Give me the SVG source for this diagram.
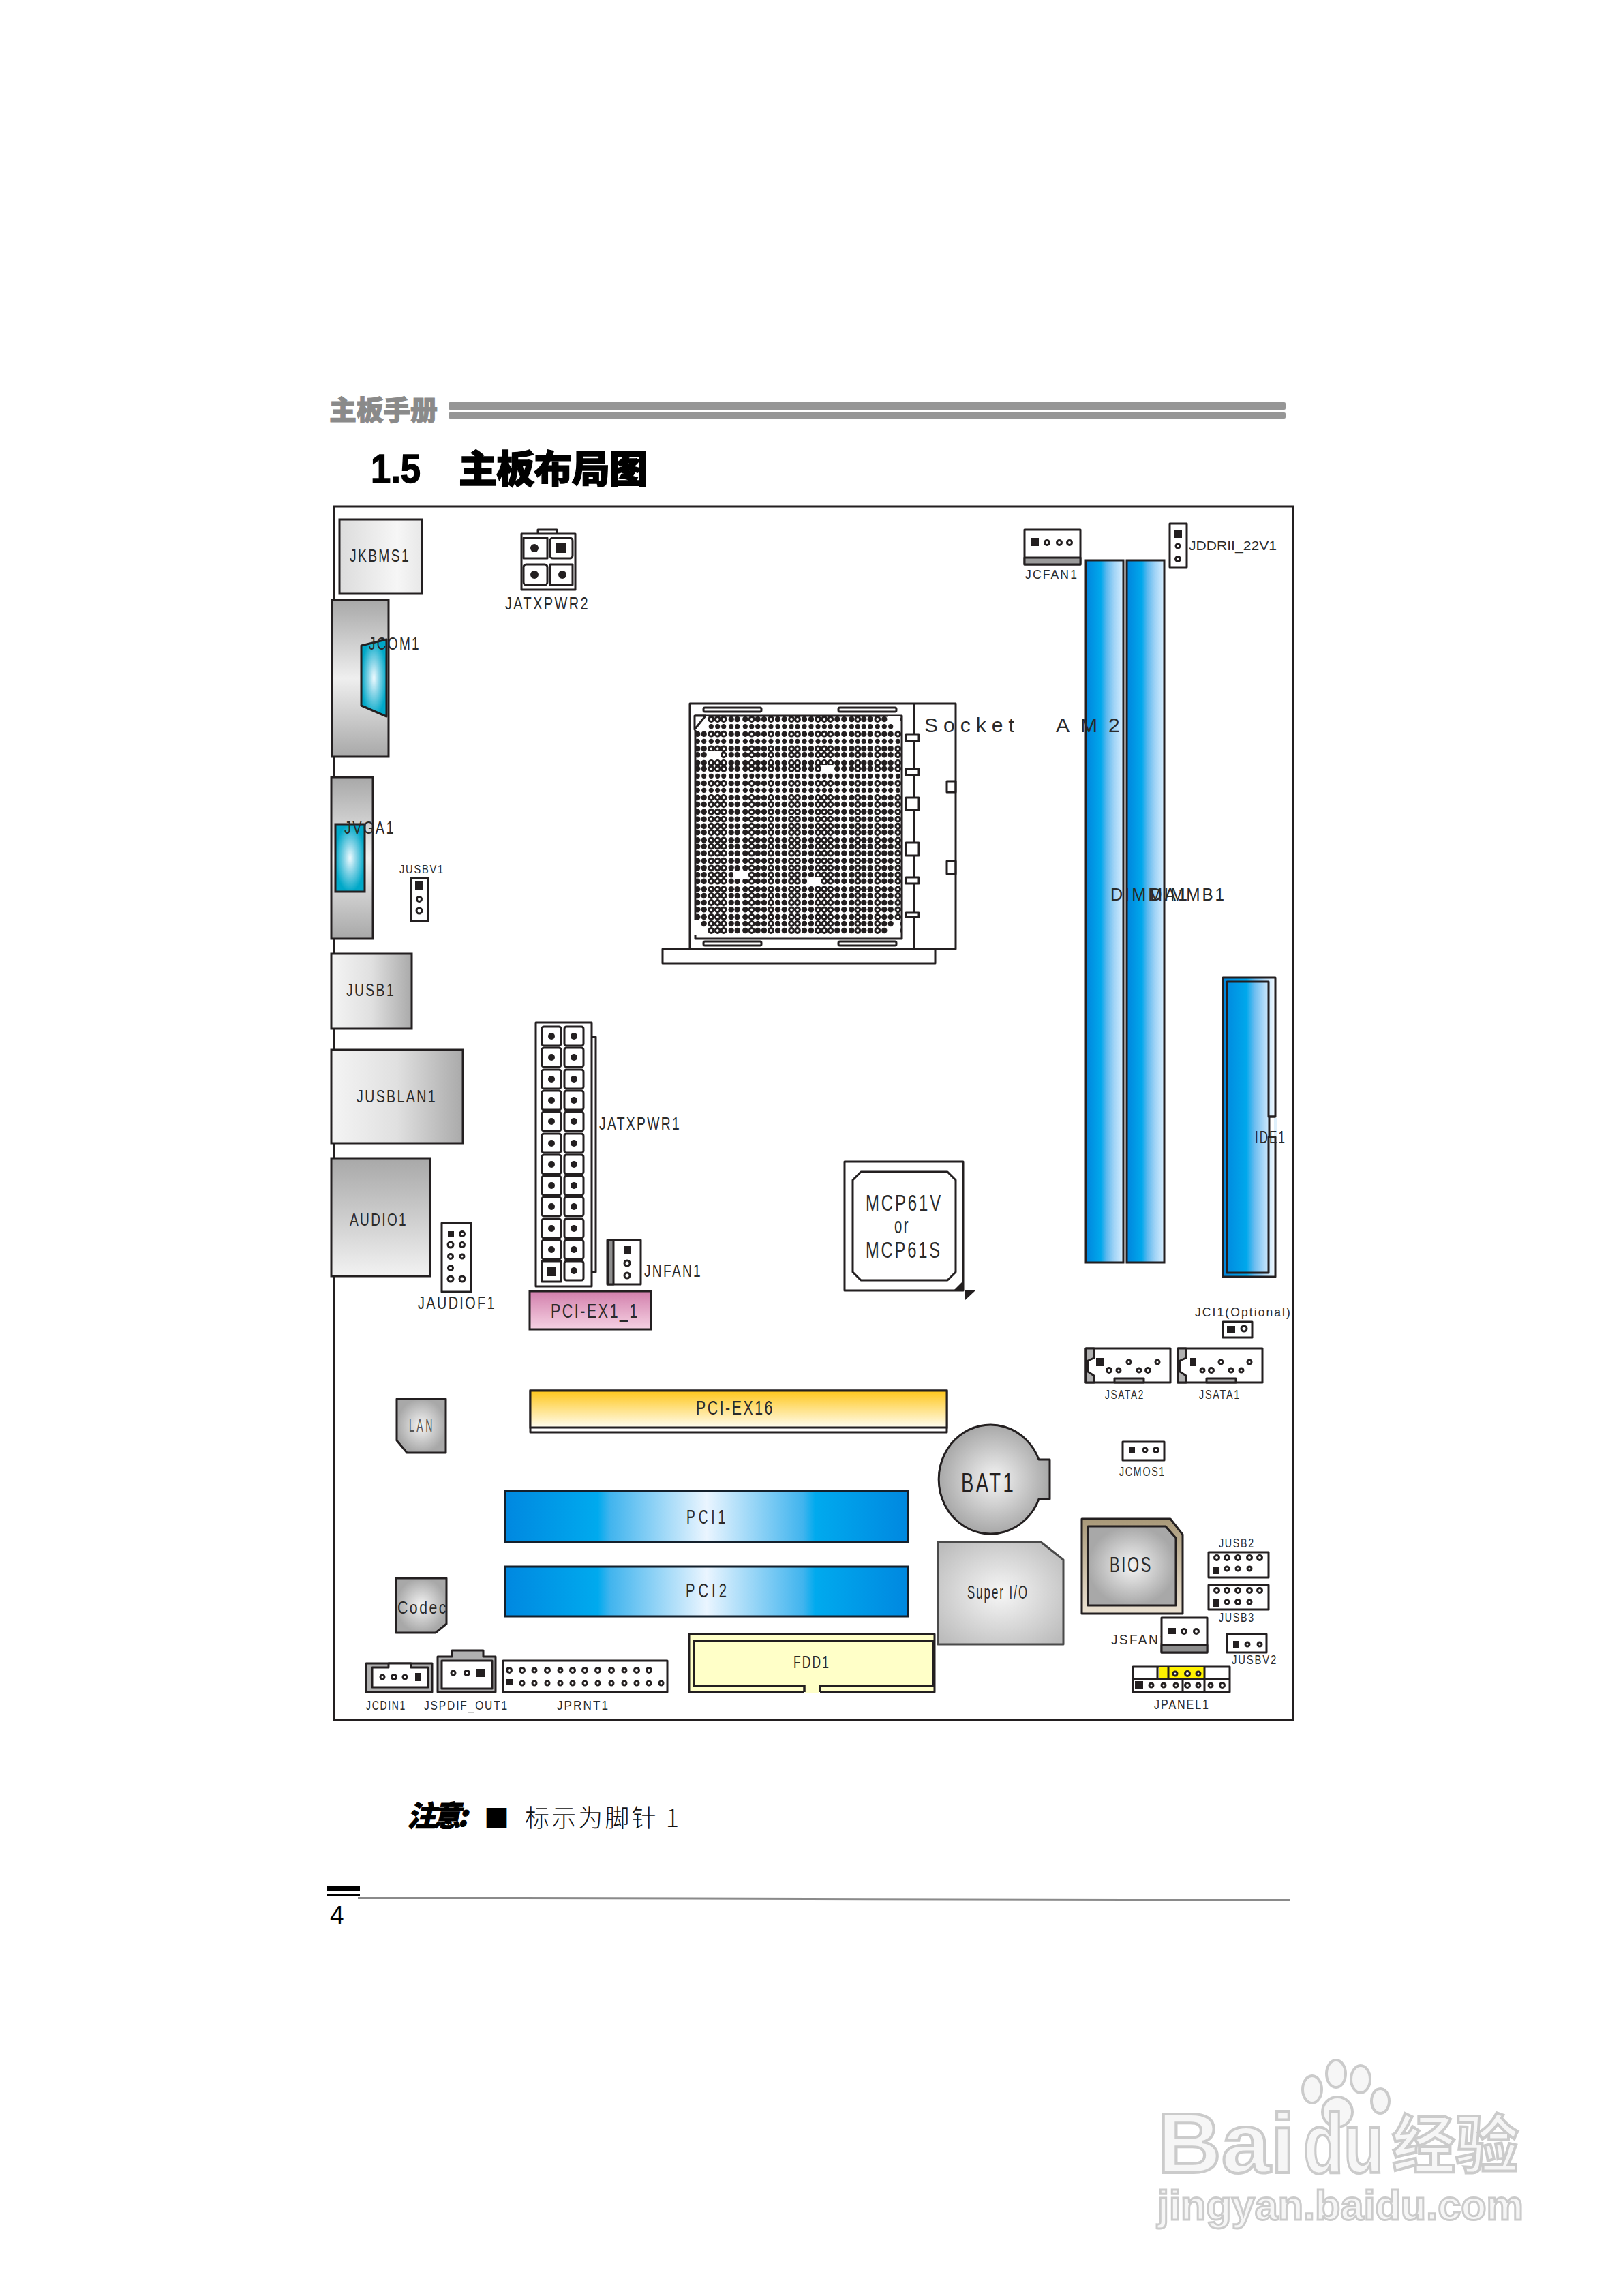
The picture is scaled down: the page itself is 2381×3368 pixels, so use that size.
<svg xmlns="http://www.w3.org/2000/svg" xmlns:xlink="http://www.w3.org/1999/xlink" width="2381" height="3368" viewBox="0 0 2381 3368">
<style>
text{font-family:"Liberation Sans",Arial,sans-serif;fill:#2a2a2a;letter-spacing:.12em}
.cjk{font-family:"Noto Sans CJK SC",sans-serif;letter-spacing:0}
.ls0{letter-spacing:0}
.b{fill:#fff;stroke:#231f20;stroke-width:3;stroke-linejoin:round}
.n{fill:none;stroke:#231f20;stroke-width:3;stroke-linejoin:round}
.s{fill:#231f20}
.p{fill:#fff;stroke:#231f20;stroke-width:3}
.g{fill:#b0b0b0;stroke:#231f20;stroke-width:3;stroke-linejoin:round}
.f25{font-size:25px}.f19{font-size:19px}.f17{font-size:17px}.f30{font-size:30px}
.wm{stroke:#cbcbcb;stroke-width:4;letter-spacing:0}
.pa{fill:#231f20}
.pr{fill:#fff;stroke:#231f20;stroke-width:3}
</style>
<defs>
<linearGradient id="gKb" x1="0" x2="1" y1="0" y2="0"><stop offset="0" stop-color="#dcdcdc"/><stop offset=".7" stop-color="#f6f6f6"/><stop offset="1" stop-color="#e8e8e8"/></linearGradient>
<linearGradient id="gPort" x1="0" x2="0" y1="0" y2="1"><stop offset="0" stop-color="#a8a8a8"/><stop offset=".5" stop-color="#efefef"/><stop offset="1" stop-color="#a8a8a8"/></linearGradient>
<linearGradient id="gUsb" x1="0" x2="1" y1="0" y2="0"><stop offset="0" stop-color="#f4f4f4"/><stop offset=".5" stop-color="#e0e0e0"/><stop offset="1" stop-color="#aaaaaa"/></linearGradient>
<linearGradient id="gAud" x1="0" x2="0" y1="0" y2="1"><stop offset="0" stop-color="#a8a8a8"/><stop offset="1" stop-color="#f2f2f2"/></linearGradient>
<radialGradient id="gCyan"><stop offset="0" stop-color="#f0fbff"/><stop offset=".4" stop-color="#8dd6e8"/><stop offset="1" stop-color="#00a8c8"/></radialGradient>
<linearGradient id="gPink" x1="0" x2="0" y1="0" y2="1"><stop offset="0" stop-color="#d27fac"/><stop offset="1" stop-color="#f6d2e3"/></linearGradient>
<linearGradient id="gDimm" x1="0" x2="1" y1="0" y2="0"><stop offset="0" stop-color="#0085dd"/><stop offset=".4" stop-color="#00a8ec"/><stop offset=".55" stop-color="#5db8ee"/><stop offset=".75" stop-color="#9fd3f6"/><stop offset="1" stop-color="#d8eeff"/></linearGradient>
<linearGradient id="gIde" x1="0" x2="1" y1="0" y2="0"><stop offset="0" stop-color="#0085dd"/><stop offset=".45" stop-color="#00a8ec"/><stop offset=".6" stop-color="#6abcf0"/><stop offset=".8" stop-color="#b4dcf8"/><stop offset="1" stop-color="#f4faff"/></linearGradient>
<linearGradient id="gPci" x1="0" x2="1" y1="0" y2="0"><stop offset="0" stop-color="#0088e0"/><stop offset=".23" stop-color="#00aaee"/><stop offset=".26" stop-color="#40b4ee"/><stop offset=".5" stop-color="#eaf5ff"/><stop offset=".74" stop-color="#40b4ee"/><stop offset=".77" stop-color="#00aaee"/><stop offset="1" stop-color="#0088e0"/></linearGradient>
<linearGradient id="gEx" x1="0" x2="0" y1="0" y2="1"><stop offset="0" stop-color="#ffc61a"/><stop offset="1" stop-color="#fffdf0"/></linearGradient>
<radialGradient id="gChip"><stop offset="0" stop-color="#f4f4f4"/><stop offset="1" stop-color="#a8a8a8"/></radialGradient>
<radialGradient id="gSio" r=".65"><stop offset="0" stop-color="#f6f6f6"/><stop offset="1" stop-color="#bcbcbc"/></radialGradient>
<linearGradient id="gTan" x1="0" x2="0" y1="0" y2="1"><stop offset="0" stop-color="#a89878"/><stop offset="1" stop-color="#ece2d2"/></linearGradient>
<g id="rA">
<circle class="pa" cx="1023.3" r="4.2"/><circle class="pa" cx="1032.7" r="4.2"/><circle class="pr" cx="1043.3" r="3.4"/><circle class="pr" cx="1052.7" r="3.4"/><circle class="pr" cx="1061.7" r="3.4"/><circle class="pa" cx="1072.7" r="4.2"/><circle class="pa" cx="1081.7" r="4.2"/><circle class="pa" cx="1093.3" r="4.2"/><circle class="pr" cx="1102.7" r="3.4"/><circle class="pa" cx="1111.7" r="4.2"/><circle class="pa" cx="1121" r="4.2"/><circle class="pr" cx="1131" r="3.4"/><circle class="pa" cx="1141" r="4.2"/><circle class="pa" cx="1150.7" r="4.2"/><circle class="pr" cx="1161" r="3.4"/><circle class="pr" cx="1170" r="3.4"/><circle class="pa" cx="1180" r="4.2"/><circle class="pa" cx="1190" r="4.2"/><circle class="pr" cx="1200" r="3.4"/><circle class="pr" cx="1209.3" r="3.4"/><circle class="pr" cx="1218.3" r="3.4"/><circle class="pa" cx="1228.3" r="4.2"/><circle class="pa" cx="1238.3" r="4.2"/><circle class="pa" cx="1249.3" r="4.2"/><circle class="pr" cx="1258.3" r="3.4"/><circle class="pa" cx="1267.3" r="4.2"/><circle class="pa" cx="1276.7" r="4.2"/><circle class="pr" cx="1287.3" r="3.4"/><circle class="pa" cx="1297.3" r="4.2"/><circle class="pa" cx="1306.7" r="4.2"/><circle class="pr" cx="1317.3" r="3.4"/>
</g>
<g id="rB" class="pa">
<circle cx="1023.3" r="3.6"/><circle cx="1032.7" r="3.6"/><circle cx="1043.3" r="3.6"/><circle cx="1052.7" r="3.6"/><circle cx="1061.7" r="3.6"/><circle cx="1072.7" r="3.6"/><circle cx="1081.7" r="3.6"/><circle cx="1093.3" r="3.6"/><circle cx="1102.7" r="3.6"/><circle cx="1111.7" r="3.6"/><circle cx="1121" r="3.6"/><circle cx="1131" r="3.6"/><circle cx="1141" r="3.6"/><circle cx="1150.7" r="3.6"/><circle cx="1161" r="3.6"/><circle cx="1170" r="3.6"/><circle cx="1180" r="3.6"/><circle cx="1190" r="3.6"/><circle cx="1200" r="3.6"/><circle cx="1209.3" r="3.6"/><circle cx="1218.3" r="3.6"/><circle cx="1228.3" r="3.6"/><circle cx="1238.3" r="3.6"/><circle cx="1249.3" r="3.6"/><circle cx="1258.3" r="3.6"/><circle cx="1267.3" r="3.6"/><circle cx="1276.7" r="3.6"/><circle cx="1287.3" r="3.6"/><circle cx="1297.3" r="3.6"/><circle cx="1306.7" r="3.6"/><circle cx="1317.3" r="3.6"/>
</g>
<g id="pw"><rect class="b" width="28" height="28" rx="3"/><circle class="s" cx="14" cy="14" r="5"/></g>
<g id="sata">
<rect class="b" width="124" height="50"/>
<path class="g" d="M0 0H12V14L3 18V34L12 40V50H0Z"/>
<path class="g" d="M42 50V44H85V50Z"/>
</g>
</defs>

<rect width="2381" height="3368" fill="#fff"/>

<g id="header">
<text class="cjk" x="483" y="616" font-size="40" font-weight="900" style="fill:#8a8a8a;stroke:#8a8a8a;stroke-width:1" textLength="159">主板手册</text>
<rect x="658" y="590" width="1228" height="11" rx="2" fill="#969696"/>
<rect x="658" y="605" width="1228" height="9" rx="2" fill="#969696"/>
</g>
<g id="title">
<text class="ls0" x="544" y="708" font-size="60" font-weight="700" style="fill:#000;stroke:#000;stroke-width:1.5" textLength="73" lengthAdjust="spacingAndGlyphs">1.5</text>
<text class="cjk" x="673" y="708" font-size="56" font-weight="900" style="fill:#000;stroke:#000;stroke-width:1.5" textLength="277">主板布局图</text>
</g>

<rect id="board" x="490" y="743" width="1407" height="1780" fill="#fff" stroke="#231f20" stroke-width="3"/>

<g id="JKBMS1"><rect x="498" y="762" width="121" height="109" fill="url(#gKb)" stroke="#231f20" stroke-width="3"/><text class="f25" x="513" y="824" textLength="89" lengthAdjust="spacingAndGlyphs">JKBMS1</text></g>

<g id="JATXPWR2">
<rect class="b" x="789" y="777" width="28" height="8"/>
<rect class="b" x="765" y="783" width="79" height="82"/>
<rect class="b" x="768" y="789" width="35" height="30"/><rect class="b" x="807" y="789" width="33" height="30" rx="4"/>
<rect class="b" x="768" y="828" width="35" height="30" rx="4"/><rect class="b" x="807" y="828" width="33" height="30"/>
<circle class="s" cx="784" cy="804" r="6"/><rect class="s" x="816" y="796" width="15" height="15"/>
<circle class="s" cx="784" cy="843" r="6"/><circle class="s" cx="825" cy="843" r="6"/>
<text class="f25" x="741" y="894" textLength="124" lengthAdjust="spacingAndGlyphs">JATXPWR2</text>
</g>

<g id="JCOM1">
<rect x="487" y="880" width="83" height="230" fill="url(#gPort)" stroke="#231f20" stroke-width="3"/>
<path d="M530 947L567 938V1051L530 1035Z" fill="url(#gCyan)" stroke="#231f20" stroke-width="3" stroke-linejoin="round"/>
<text class="f25" x="541" y="953" textLength="76" lengthAdjust="spacingAndGlyphs">JCOM1</text>
</g>

<g id="JVGA1">
<rect x="486" y="1140" width="61" height="237" fill="url(#gPort)" stroke="#231f20" stroke-width="3"/>
<rect x="492" y="1209" width="43" height="99" fill="url(#gCyan)" stroke="#231f20" stroke-width="3"/>
<text class="f25" x="505" y="1223" textLength="75" lengthAdjust="spacingAndGlyphs">JVGA1</text>
</g>

<g id="JUSBV1">
<text class="f17" x="586" y="1281" textLength="66" lengthAdjust="spacingAndGlyphs">JUSBV1</text>
<rect class="b" x="603" y="1288" width="25" height="63"/>
<rect class="s" x="609" y="1293" width="12" height="12"/><circle class="p" cx="615" cy="1319" r="3.5"/><circle class="p" cx="615" cy="1336" r="4"/>
</g>

<g id="JUSB1"><rect x="486" y="1399" width="118" height="110" fill="url(#gUsb)" stroke="#231f20" stroke-width="3"/><text class="f25" x="508" y="1461" textLength="72" lengthAdjust="spacingAndGlyphs">JUSB1</text></g>
<g id="JUSBLAN1"><rect x="486" y="1540" width="193" height="137" fill="url(#gUsb)" stroke="#231f20" stroke-width="3"/><text class="f25" x="523" y="1617" textLength="118" lengthAdjust="spacingAndGlyphs">JUSBLAN1</text></g>
<g id="AUDIO1"><rect x="486" y="1699" width="145" height="173" fill="url(#gAud)" stroke="#231f20" stroke-width="3"/><text class="f25" x="513" y="1798" textLength="85" lengthAdjust="spacingAndGlyphs">AUDIO1</text></g>

<g id="JAUDIOF1">
<rect class="b" x="648" y="1794" width="43" height="101"/>
<rect class="s" x="657" y="1806" width="9" height="9"/>
<circle class="p" cx="678" cy="1810" r="3.5"/><circle class="p" cx="661" cy="1826" r="4"/><circle class="p" cx="678" cy="1826" r="3.5"/><circle class="p" cx="661" cy="1843" r="3.5"/><circle class="p" cx="678" cy="1843" r="3"/><circle class="p" cx="661" cy="1860" r="3.5"/><circle class="p" cx="661" cy="1876" r="4"/><circle class="p" cx="678" cy="1876" r="4"/>
<text class="f25" x="613" y="1920" textLength="115" lengthAdjust="spacingAndGlyphs">JAUDIOF1</text>
</g>

<g id="JATXPWR1">
<path class="n" d="M867 1521H874V1866H867"/>
<rect class="b" x="786" y="1500" width="82" height="387"/>
<use href="#pw" x="795" y="1506"/><use href="#pw" x="828" y="1506"/>
<use href="#pw" x="795" y="1537"/><use href="#pw" x="828" y="1537"/>
<use href="#pw" x="795" y="1569"/><use href="#pw" x="828" y="1569"/>
<use href="#pw" x="795" y="1600"/><use href="#pw" x="828" y="1600"/>
<use href="#pw" x="795" y="1631"/><use href="#pw" x="828" y="1631"/>
<use href="#pw" x="795" y="1663"/><use href="#pw" x="828" y="1663"/>
<use href="#pw" x="795" y="1694"/><use href="#pw" x="828" y="1694"/>
<use href="#pw" x="795" y="1725"/><use href="#pw" x="828" y="1725"/>
<use href="#pw" x="795" y="1756"/><use href="#pw" x="828" y="1756"/>
<use href="#pw" x="795" y="1788"/><use href="#pw" x="828" y="1788"/>
<use href="#pw" x="795" y="1819"/><use href="#pw" x="828" y="1819"/>
<use href="#pw" x="828" y="1850"/>
<rect class="b" x="795" y="1850" width="28" height="30"/><rect class="s" x="802" y="1858" width="14" height="14"/>
<text class="f25" x="879" y="1657" textLength="120" lengthAdjust="spacingAndGlyphs">JATXPWR1</text>
</g>

<g id="JNFAN1">
<rect class="b" x="891" y="1819" width="49" height="65"/>
<rect class="g" x="892" y="1819" width="8" height="65" style="fill:#8e8e8e"/>
<rect class="s" x="916" y="1828" width="9" height="11"/><circle class="p" cx="920" cy="1853" r="4"/><circle class="p" cx="920" cy="1871" r="4"/>
<text class="f25" x="945" y="1873" textLength="85" lengthAdjust="spacingAndGlyphs">JNFAN1</text>
</g>

<g id="PCI-EX1_1"><rect x="777" y="1894" width="178" height="56" fill="url(#gPink)" stroke="#231f20" stroke-width="3"/><text class="f30" x="808" y="1933" textLength="130" lengthAdjust="spacingAndGlyphs">PCI-EX1_1</text></g>

<g id="JCFAN1">
<rect class="b" x="1503" y="777" width="82" height="51"/><rect class="g" x="1503" y="818" width="82" height="10" style="fill:#9a9a9a"/>
<rect class="s" x="1512" y="789" width="12" height="12"/><circle class="p" cx="1536" cy="796" r="3.5"/><circle class="p" cx="1554" cy="796" r="3.5"/><circle class="p" cx="1569" cy="796" r="3.5"/>
<text class="f19" x="1504" y="849" textLength="78" lengthAdjust="spacingAndGlyphs">JCFAN1</text>
</g>
<g id="JDDRII_22V1">
<rect class="b" x="1716" y="768" width="25" height="64"/>
<rect class="s" x="1722" y="777" width="12" height="12"/><circle class="p" cx="1728" cy="801" r="3"/><circle class="p" cx="1728" cy="820" r="3.5"/>
<text class="f19 ls0" x="1744" y="807" textLength="129" lengthAdjust="spacingAndGlyphs">JDDRII_22V1</text>
</g>
<g id="DIMMA1"><rect x="1593" y="822" width="55" height="1030" fill="url(#gDimm)" stroke="#231f20" stroke-width="3"/></g>
<g id="DIMMB1"><rect x="1653" y="822" width="55" height="1030" fill="url(#gDimm)" stroke="#231f20" stroke-width="3"/></g>
<text class="f25" x="1629" y="1321" textLength="116" lengthAdjust="spacingAndGlyphs">DIMMA1</text>
<text class="f25" x="1687" y="1321" textLength="112" lengthAdjust="spacingAndGlyphs">DIMMB1</text>

<g id="SocketAM2">
<rect class="b" x="972" y="1392" width="400" height="21"/>
<rect class="n" x="1012" y="1032" width="390" height="360"/>
<path class="n" d="M1341 1032V1392"/>
<rect class="n" x="1389" y="1146" width="13" height="16"/><rect class="n" x="1389" y="1263" width="13" height="19"/>
<rect class="n" x="1032" y="1038" width="85" height="6" rx="2"/><rect class="n" x="1230" y="1038" width="85" height="6" rx="2"/>
<rect class="n" x="1032" y="1381" width="85" height="6" rx="2"/><rect class="n" x="1230" y="1381" width="85" height="6" rx="2"/>
<rect class="b" x="1020" y="1050" width="303" height="327"/>
<g id="socketPins">
<use href="#rA" y="1055"/><use href="#rB" y="1065.7"/><use href="#rA" y="1076.7"/><use href="#rB" y="1087.3"/><use href="#rA" y="1098.3"/><use href="#rA" y="1107.3"/><use href="#rA" y="1119"/><use href="#rA" y="1127.7"/><use href="#rB" y="1138.3"/><use href="#rA" y="1149"/><use href="#rB" y="1159.3"/><use href="#rA" y="1170"/><use href="#rA" y="1180"/><use href="#rA" y="1190.7"/><use href="#rA" y="1201.7"/><use href="#rA" y="1211.7"/><use href="#rA" y="1221"/><use href="#rA" y="1232.3"/><use href="#rA" y="1241.7"/><use href="#rA" y="1251.7"/><use href="#rA" y="1262.7"/><use href="#rA" y="1273.3"/><use href="#rA" y="1283.3"/><use href="#rA" y="1292.7"/><use href="#rA" y="1304.3"/><use href="#rA" y="1314"/><use href="#rA" y="1324"/><use href="#rA" y="1334.3"/><use href="#rA" y="1345"/><use href="#rA" y="1355"/><use href="#rA" y="1365"/>
</g>
<g fill="#fff">
<rect x="1018" y="1051" width="20" height="20"/><rect x="1302" y="1051" width="19" height="10"/><rect x="1312" y="1061" width="9" height="10"/>
<rect x="1018" y="1350" width="10" height="10"/><rect x="1312" y="1350" width="9" height="10"/>
<rect x="1018" y="1360" width="20" height="11"/><rect x="1302" y="1360" width="19" height="11"/>
<rect x="1038" y="1102" width="20" height="11"/><rect x="1204" y="1122" width="20" height="11"/><rect x="1076" y="1278" width="22" height="11"/><rect x="1185" y="1287" width="20" height="11"/>
</g>
<path class="n" d="M1019 1050H1035L1019 1070Z"/>
<rect class="b" x="1329" y="1077" width="19" height="10"/><rect class="b" x="1329" y="1128" width="19" height="9"/><rect class="b" x="1329" y="1170" width="19" height="18"/><rect class="b" x="1329" y="1236" width="19" height="19"/><rect class="b" x="1329" y="1287" width="19" height="9"/><rect class="b" x="1329" y="1339" width="19" height="6"/>
<text class="f30" x="1356" y="1074" style="letter-spacing:8px">Socket <tspan x="1549" style="letter-spacing:16px">AM2</tspan></text>
</g>

<g id="IDE1">
<path d="M1794 1434H1871V1638H1862V1668H1871V1873H1794Z" fill="url(#gIde)" stroke="#231f20" stroke-width="3" stroke-linejoin="round"/>
<path d="M1871 1638H1861V1440H1800V1867H1861V1668H1871" class="n"/>
<path d="M1871 1640V1666" stroke="#dff0fc" stroke-width="4"/>
<text class="f25" x="1841" y="1677" textLength="46" lengthAdjust="spacingAndGlyphs">IDE1</text>
</g>

<g id="MCP61">
<rect class="b" x="1239" y="1704" width="174" height="189"/>
<path class="n" d="M1263 1719H1390L1402 1731V1866L1390 1878H1263L1251 1866V1731Z"/>
<path class="s" d="M1399 1893H1413V1879Z"/><path class="s" d="M1416 1893H1431L1416 1907Z"/>
<text x="1270" y="1776" font-size="33" textLength="113" lengthAdjust="spacingAndGlyphs">MCP61V</text>
<text x="1312" y="1809" font-size="33" textLength="23" lengthAdjust="spacingAndGlyphs">or</text>
<text x="1270" y="1845" font-size="33" textLength="112" lengthAdjust="spacingAndGlyphs">MCP61S</text>
</g>

<g id="JCI1">
<text class="f19" x="1753" y="1931" textLength="142" lengthAdjust="spacingAndGlyphs">JCI1(Optional)</text>
<rect class="b" x="1794" y="1939" width="43" height="23"/>
<rect class="s" x="1800" y="1945" width="12" height="11"/><circle class="p" cx="1825" cy="1949" r="4"/>
</g>
<g id="JSATA2">
<use href="#sata" x="1593" y="1978"/>
<rect class="s" x="1608" y="1992" width="12" height="12"/>
<circle class="p" cx="1627" cy="2010" r="3.5"/><circle class="p" cx="1641" cy="2010" r="3"/><circle class="p" cx="1656" cy="1998" r="3"/><circle class="p" cx="1671" cy="2010" r="3"/><circle class="p" cx="1684" cy="2010" r="3.5"/><circle class="p" cx="1698" cy="1998" r="3"/>
<text class="f19" x="1621" y="2052" textLength="58" lengthAdjust="spacingAndGlyphs">JSATA2</text>
</g>
<g id="JSATA1">
<use href="#sata" x="1728" y="1978"/>
<rect class="s" x="1746" y="1992" width="9" height="12"/>
<circle class="p" cx="1764" cy="2010" r="3"/><circle class="p" cx="1777" cy="2010" r="3.5"/><circle class="p" cx="1791" cy="1998" r="3"/><circle class="p" cx="1806" cy="2010" r="3"/><circle class="p" cx="1821" cy="2010" r="3"/><circle class="p" cx="1833" cy="1998" r="3"/>
<text class="f19" x="1759" y="2052" textLength="61" lengthAdjust="spacingAndGlyphs">JSATA1</text>
</g>
<g id="JCMOS1">
<rect class="b" x="1647" y="2115" width="61" height="27"/>
<rect class="s" x="1656" y="2122" width="9" height="10"/><circle class="p" cx="1680" cy="2127" r="3"/><circle class="p" cx="1696" cy="2127" r="3.5"/>
<text class="f19" x="1642" y="2165" textLength="68" lengthAdjust="spacingAndGlyphs">JCMOS1</text>
</g>

<g id="LAN">
<path d="M582 2052H654V2131H597L582 2113Z" fill="url(#gChip)" stroke="#231f20" stroke-width="3" stroke-linejoin="round"/>
<text x="600" y="2100" font-size="25" textLength="38" lengthAdjust="spacingAndGlyphs" style="fill:#555;letter-spacing:.25em">LAN</text>
</g>
<g id="PCI-EX16">
<rect class="b" x="778" y="2040" width="611" height="61"/>
<rect x="778" y="2040" width="611" height="54" fill="url(#gEx)" stroke="#231f20" stroke-width="3"/>
<text class="f30" x="1021" y="2075" textLength="115" lengthAdjust="spacingAndGlyphs">PCI-EX16</text>
</g>
<g id="PCI1"><rect x="741" y="2187" width="591" height="75" fill="url(#gPci)" stroke="#14202c" stroke-width="3"/><text class="f30" x="1007" y="2235" textLength="62" lengthAdjust="spacingAndGlyphs" style="letter-spacing:.25em">PCI1</text></g>
<g id="PCI2"><rect x="741" y="2298" width="591" height="73" fill="url(#gPci)" stroke="#14202c" stroke-width="3"/><text class="f30" x="1006" y="2343" textLength="65" lengthAdjust="spacingAndGlyphs" style="letter-spacing:.25em">PCI2</text></g>

<g id="BAT1">
<path d="M1524 2141H1540V2199H1524A76 80 0 1 1 1524 2141Z" fill="url(#gChip)" stroke="#231f20" stroke-width="3" stroke-linejoin="round"/>
<text x="1410" y="2189" font-size="40" textLength="80" lengthAdjust="spacingAndGlyphs" style="fill:#231f20">BAT1</text>
</g>
<g id="SuperIO">
<path d="M1376 2262H1527L1560 2288V2412H1376Z" fill="url(#gSio)" stroke="#4a4a4a" stroke-width="3" stroke-linejoin="round"/>
<text x="1419" y="2345" font-size="27" textLength="90" lengthAdjust="spacingAndGlyphs">Super I/O</text>
</g>
<g id="BIOS">
<path d="M1587 2228H1717L1735 2251V2367H1587Z" fill="url(#gTan)" stroke="#231f20" stroke-width="3" stroke-linejoin="round"/>
<path d="M1596 2239H1710L1725 2256V2355H1596Z" fill="url(#gChip)" stroke="#231f20" stroke-width="3" stroke-linejoin="round"/>
<text x="1628" y="2306" font-size="32" textLength="63" lengthAdjust="spacingAndGlyphs">BIOS</text>
</g>
<g id="JUSB2">
<text class="f19" x="1788" y="2270" textLength="53" lengthAdjust="spacingAndGlyphs">JUSB2</text>
<rect class="b" x="1773" y="2277" width="88" height="37"/>
<circle class="p" cx="1785" cy="2285" r="3.5"/><circle class="p" cx="1800" cy="2285" r="3.5"/><circle class="p" cx="1816" cy="2285" r="3.5"/><circle class="p" cx="1833" cy="2285" r="3.5"/><circle class="p" cx="1848" cy="2285" r="3.5"/>
<rect class="s" x="1779" y="2298" width="9" height="11"/><circle class="p" cx="1800" cy="2301" r="3"/><circle class="p" cx="1816" cy="2301" r="3"/><circle class="p" cx="1833" cy="2301" r="3"/>
</g>
<g id="JUSB3">
<rect class="b" x="1773" y="2325" width="88" height="36"/>
<circle class="p" cx="1785" cy="2333" r="3.5"/><circle class="p" cx="1800" cy="2333" r="3.5"/><circle class="p" cx="1816" cy="2333" r="3.5"/><circle class="p" cx="1833" cy="2333" r="3.5"/><circle class="p" cx="1848" cy="2333" r="3.5"/>
<rect class="s" x="1779" y="2346" width="9" height="11"/><circle class="p" cx="1800" cy="2350" r="3"/><circle class="p" cx="1816" cy="2350" r="3.5"/><circle class="p" cx="1833" cy="2350" r="3"/>
<text class="f19" x="1788" y="2379" textLength="53" lengthAdjust="spacingAndGlyphs">JUSB3</text>
</g>
<g id="JSFAN1">
<text x="1630" y="2412" font-size="21" textLength="84" lengthAdjust="spacingAndGlyphs">JSFAN1</text>
<rect class="b" x="1704" y="2373" width="67" height="51"/><rect class="g" x="1704" y="2413" width="67" height="11" style="fill:#8e8e8e"/>
<rect class="s" x="1713" y="2388" width="12" height="9"/><circle class="p" cx="1737" cy="2393" r="3.5"/><circle class="p" cx="1755" cy="2393" r="3.5"/>
</g>
<g id="JUSBV2">
<rect class="b" x="1800" y="2397" width="58" height="27"/>
<rect class="s" x="1809" y="2407" width="9" height="11"/><circle class="p" cx="1830" cy="2412" r="3"/><circle class="p" cx="1848" cy="2412" r="3"/>
<text class="f19" x="1807" y="2441" textLength="67" lengthAdjust="spacingAndGlyphs">JUSBV2</text>
</g>
<g id="JPANEL1">
<rect class="b" x="1662" y="2445" width="142" height="37"/>
<rect x="1700" y="2446" width="13" height="17" fill="#fff200"/><rect x="1715" y="2446" width="52" height="17" fill="#fff200"/>
<path class="n" d="M1698 2445V2463M1714 2445V2463M1767 2445V2463M1662 2463H1804M1735 2463V2482M1767 2463V2482"/>
<rect class="s" x="1665" y="2466" width="12" height="11"/>
<circle class="p" cx="1724" cy="2455" r="3"/><circle class="p" cx="1742" cy="2455" r="3.5"/><circle class="p" cx="1758" cy="2455" r="3"/>
<circle class="p" cx="1689" cy="2472" r="3"/><circle class="p" cx="1707" cy="2472" r="3"/><circle class="p" cx="1725" cy="2472" r="3"/><circle class="p" cx="1742" cy="2472" r="3.5"/><circle class="p" cx="1758" cy="2472" r="3"/><circle class="p" cx="1776" cy="2472" r="3"/><circle class="p" cx="1793" cy="2472" r="3.5"/>
<text x="1693" y="2507" font-size="21" textLength="82" lengthAdjust="spacingAndGlyphs">JPANEL1</text>
</g>

<g id="Codec">
<path d="M581 2315H655V2382L639 2395H581Z" fill="url(#gChip)" stroke="#231f20" stroke-width="3" stroke-linejoin="round"/>
<text x="583" y="2367" font-size="26" textLength="74" lengthAdjust="spacingAndGlyphs">Codec</text>
</g>
<g id="JCDIN1">
<rect class="g" x="537" y="2440" width="97" height="42"/>
<path class="b" d="M546 2446H570V2440H603V2446H628V2475H546Z"/>
<circle class="p" cx="561" cy="2460" r="3"/><circle class="p" cx="578" cy="2460" r="3.5"/><circle class="p" cx="594" cy="2460" r="3"/><rect class="s" x="609" y="2454" width="9" height="12"/>
<text class="f19" x="537" y="2508" textLength="59" lengthAdjust="spacingAndGlyphs">JCDIN1</text>
</g>
<g id="JSPDIF_OUT1">
<path class="g" d="M642 2430H663V2421H709V2430H727V2482H642Z"/>
<rect class="b" x="648" y="2436" width="74" height="41"/>
<circle class="p" cx="665" cy="2454" r="3"/><circle class="p" cx="685" cy="2454" r="3.5"/><rect class="s" x="699" y="2448" width="12" height="12"/>
<text class="f19" x="622" y="2508" textLength="124" lengthAdjust="spacingAndGlyphs">JSPDIF_OUT1</text>
</g>
<g id="JPRNT1">
<rect class="b" x="738" y="2436" width="241" height="46"/>
<circle class="p" cx="747" cy="2450" r="3.5"/><circle class="p" cx="766" cy="2450" r="3.5"/><circle class="p" cx="784" cy="2450" r="3"/><circle class="p" cx="803" cy="2450" r="3.5"/><circle class="p" cx="822" cy="2450" r="3"/><circle class="p" cx="840" cy="2450" r="3.5"/><circle class="p" cx="858" cy="2450" r="3.5"/><circle class="p" cx="877" cy="2450" r="3.5"/><circle class="p" cx="897" cy="2450" r="3.5"/><circle class="p" cx="916" cy="2450" r="3"/><circle class="p" cx="934" cy="2450" r="3.5"/><circle class="p" cx="952" cy="2450" r="3.5"/>
<rect class="s" x="742" y="2463" width="11" height="9"/>
<circle class="p" cx="766" cy="2469" r="3"/><circle class="p" cx="784" cy="2469" r="3"/><circle class="p" cx="803" cy="2469" r="3"/><circle class="p" cx="822" cy="2469" r="3"/><circle class="p" cx="840" cy="2469" r="3"/><circle class="p" cx="858" cy="2469" r="3"/><circle class="p" cx="877" cy="2469" r="3"/><circle class="p" cx="897" cy="2469" r="3"/><circle class="p" cx="916" cy="2469" r="3"/><circle class="p" cx="934" cy="2469" r="3"/><circle class="p" cx="952" cy="2469" r="3"/><circle class="p" cx="970" cy="2469" r="3"/>
<text class="f19" x="817" y="2508" textLength="77" lengthAdjust="spacingAndGlyphs">JPRNT1</text>
</g>
<g id="FDD1">
<path d="M1180 2482H1011V2397H1371V2482H1203" fill="#ffffc8" stroke="#231f20" stroke-width="3" stroke-linejoin="round"/>
<rect x="1181" y="2474" width="21" height="10" fill="#ffffc8"/>
<path d="M1180 2482V2473H1018V2407H1369V2473H1203V2482" fill="none" stroke="#231f20" stroke-width="3.5"/>
<text x="1164" y="2447" font-size="26" textLength="54" lengthAdjust="spacingAndGlyphs">FDD1</text>
</g>

<g id="note">
<text class="cjk" x="597" y="2679" font-size="42" font-weight="900" font-style="italic" style="fill:#000;stroke:#000;stroke-width:1" textLength="89">注意:</text>
<text class="cjk" x="710" y="2681" font-size="37" style="fill:#000">■</text>
<text class="cjk" x="770" y="2680" font-size="36" font-weight="300" style="fill:#111" textLength="226">标示为脚针 1</text>
</g>
<g id="footer">
<rect x="479" y="2767" width="49" height="7" fill="#000"/><rect x="479" y="2778" width="49" height="3" fill="#000"/>
<path d="M525 2784L1893 2787" stroke="#8a8a8a" stroke-width="3"/>
<text class="ls0" x="484" y="2822" font-size="37" style="fill:#000">4</text>
</g>
<g id="watermark">
<ellipse cx="1962" cy="3098" rx="22" ry="22" class="wm" fill="#f6f6f6"/>
<ellipse cx="1925" cy="3065" rx="14" ry="20" class="wm" fill="#f6f6f6"/><ellipse cx="1960" cy="3042" rx="14" ry="20" class="wm" fill="#f6f6f6"/><ellipse cx="1996" cy="3050" rx="14" ry="20" class="wm" fill="#f6f6f6"/><ellipse cx="2025" cy="3082" rx="13" ry="18" class="wm" fill="#f6f6f6"/>
<text x="1698" y="3187" font-size="125" font-weight="700" class="wm" style="fill:#f6f6f6" textLength="202" lengthAdjust="spacingAndGlyphs">Bai</text>
<text x="1912" y="3187" font-size="125" font-weight="700" class="wm" style="fill:#f6f6f6" textLength="118" lengthAdjust="spacingAndGlyphs">du</text>
<text class="cjk wm" x="2042" y="3180" font-size="93" font-weight="700" style="fill:#f6f6f6" textLength="186">经验</text>
<text x="1698" y="3256" font-size="62" font-weight="700" class="wm" style="fill:#f6f6f6;stroke-width:3" textLength="537" lengthAdjust="spacingAndGlyphs">jingyan.baidu.com</text>
</g>
</svg>
